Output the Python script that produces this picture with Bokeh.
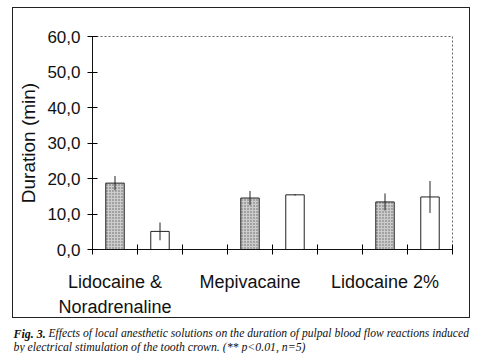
from bokeh.plotting import figure
from bokeh.models import (FixedTicker, LinearAxis, Label, Range1d, ColumnDataSource,
                          InlineStyleSheet, BoxAnnotation)
from bokeh.embed import file_html
from bokeh.resources import INLINE

categories = ["Lidocaine &\nNoradrenaline", "Mepivacaine", "Lidocaine 2%"]
series_a = [18.7, 14.5, 13.4]      # stippled bars
series_a_err = [2.0, 2.0, 2.4]
series_b = [5.1, 15.4, 14.8]       # open bars
series_b_err = [2.5, 0.2, 4.5]
y_ticks = [0, 10, 20, 30, 40, 50, 60]
y_tick_labels = ["0,0", "10,0", "20,0", "30,0", "40,0", "50,0", "60,0"]
y_label = "Duration (min)"
caption_bold = "Fig. 3."
caption_line1 = "Effects of local anesthetic solutions on the duration of pulpal blood flow reactions induced"
caption_line2 = "by electrical stimulation of the tooth crown. (** p<0.01, n=5)"

W, H = 481, 353
p = figure(width=W, height=H, output_backend="svg", toolbar_location=None,
           x_range=Range1d(0, 8), y_range=Range1d(0, 60),
           min_border_left=92, min_border_right=29, min_border_top=36, min_border_bottom=104,
           x_axis_type=None, y_axis_type=None)
p.grid.visible = False
p.background_fill_color = "white"
p.border_fill_color = "white"
p.outline_line_color = "#666666"
p.outline_line_dash = "2 2"
p.outline_line_width = 1

n = len(categories)
xa = [i * 3 + 0.5 for i in range(n)]
xb = [i * 3 + 1.5 for i in range(n)]

src_a = ColumnDataSource(dict(x=xa, top=series_a,
                              lo=[v - e for v, e in zip(series_a, series_a_err)],
                              hi=[v + e for v, e in zip(series_a, series_a_err)]))
src_b = ColumnDataSource(dict(x=xb, top=series_b,
                              lo=[v - e for v, e in zip(series_b, series_b_err)],
                              hi=[v + e for v, e in zip(series_b, series_b_err)]))

p.vbar(x="x", top="top", bottom=0, width=0.41, source=src_a,
       fill_color="#cccccc", line_color="#222222", line_width=1,
       hatch_pattern="dot", hatch_scale=3, hatch_color="#4a4a4a", hatch_alpha=0.8)
p.vbar(x="x", top="top", bottom=0, width=0.41, source=src_b,
       fill_color="white", line_color="#222222", line_width=1)
p.segment(x0="x", x1="x", y0="lo", y1="hi", source=src_a, line_color="#222222", line_width=1)
p.segment(x0="x", x1="x", y0="lo", y1="hi", source=src_b, line_color="#222222", line_width=1)

font = "Liberation Sans"

yaxis = LinearAxis(ticker=FixedTicker(ticks=y_ticks, minor_ticks=[]))
yaxis.major_label_overrides = {t: l for t, l in zip(y_ticks, y_tick_labels)}
yaxis.major_tick_in = 5
yaxis.major_tick_out = 5
yaxis.major_label_standoff = 7
yaxis.major_label_text_font = font
yaxis.major_label_text_font_size = "17px"
yaxis.major_label_text_color = "#111111"
yaxis.axis_label = y_label
yaxis.axis_label_text_font = font
yaxis.axis_label_text_font_size = "19px"
yaxis.axis_label_text_font_style = "normal"
yaxis.axis_label_text_color = "#111111"
yaxis.axis_label_standoff = 5
yaxis.axis_line_color = "#111111"
p.add_layout(yaxis, "left")

xaxis = LinearAxis(ticker=FixedTicker(ticks=xa, minor_ticks=list(range(0, 9))))
xaxis.major_label_overrides = {x: c for x, c in zip(xa, categories)}
xaxis.major_tick_in = 0
xaxis.major_tick_out = 0
xaxis.minor_tick_in = 5
xaxis.minor_tick_out = 5
xaxis.major_label_standoff = 17
xaxis.major_label_text_font = font
xaxis.major_label_text_font_size = "18px"
xaxis.major_label_text_color = "#111111"
xaxis.major_label_text_line_height = 1.25
xaxis.axis_line_color = "#111111"
p.add_layout(xaxis, "below")

# outer frame box around the chart (not the caption)
p.stylesheets = [InlineStyleSheet(css=""":host { position: relative; }
:host::after { content: ""; position: absolute; left: 12px; top: 7px; width: 458px; height: 311px;
  border: 1px solid #222; pointer-events: none; box-sizing: border-box; z-index: 50; }""")]
box = BoxAnnotation(left=12, right=469, top=7, bottom=317,
                    left_units="canvas", right_units="canvas",
                    top_units="canvas", bottom_units="canvas",
                    fill_alpha=0, line_color="#222222", line_width=1)
p.add_layout(box, "right")

serif = "Liberation Serif"
p.add_layout(Label(x=13, y=333, x_units="canvas", y_units="canvas", text=caption_bold,
                   text_font=serif, text_font_style="bold italic", text_font_size="12px",
                   text_baseline="alphabetic", text_color="#111111"), "above")
p.add_layout(Label(x=48, y=333, x_units="canvas", y_units="canvas", text=caption_line1,
                   text_font=serif, text_font_style="italic", text_font_size="11.6px",
                   text_baseline="alphabetic", text_color="#111111"), "below")
p.add_layout(Label(x=13, y=346, x_units="canvas", y_units="canvas", text=caption_line2,
                   text_font=serif, text_font_style="italic", text_font_size="11.8px",
                   text_baseline="alphabetic", text_color="#111111"), "below")

open("out.html", "w").write(file_html(p, INLINE))
